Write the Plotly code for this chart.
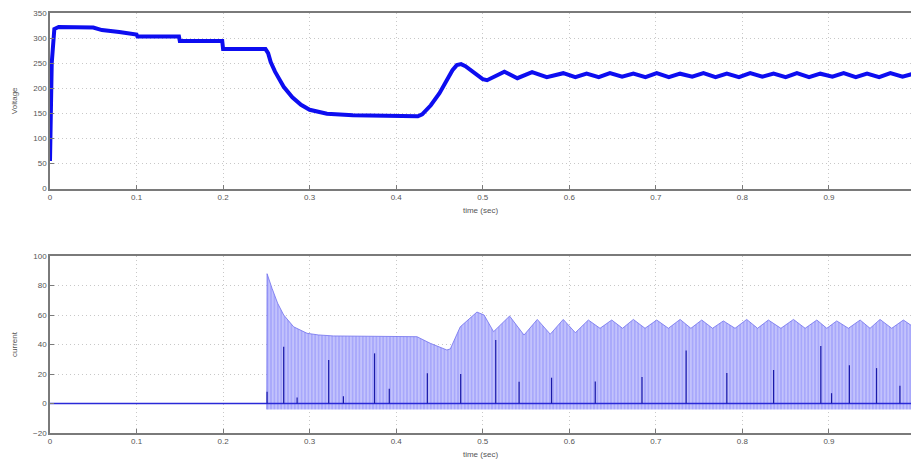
import plotly.graph_objects as go
from plotly.subplots import make_subplots

# ---------------- data ----------------
volt_t = [0.0, 0.002, 0.005, 0.01, 0.05, 0.06, 0.08, 0.1, 0.101, 0.149, 0.15, 0.199, 0.2,
          0.249, 0.252, 0.255, 0.26, 0.265, 0.27, 0.28, 0.29, 0.30, 0.31, 0.32, 0.35, 0.40,
          0.425, 0.43, 0.44, 0.45, 0.46, 0.465, 0.47, 0.475, 0.48, 0.49, 0.5, 0.505, 0.515,
          0.525, 0.54, 0.557, 0.574, 0.593, 0.607, 0.620, 0.634, 0.647, 0.661, 0.674, 0.688,
          0.701, 0.715, 0.728, 0.742, 0.755, 0.769, 0.782, 0.796, 0.809, 0.823, 0.836, 0.850,
          0.863, 0.877, 0.890, 0.904, 0.917, 0.931, 0.944, 0.958, 0.971, 0.985, 0.998]
volt_v = [55, 250, 318, 322, 321, 316, 312, 307, 303, 303, 294, 294, 278,
          278, 270, 252, 233, 218, 203, 182, 167, 157, 152, 149, 146, 144,
          144, 148, 166, 190, 220, 236, 246, 248, 244, 230, 218, 216, 224,
          233, 220, 232, 222, 230, 222, 229, 222, 230, 223, 229, 222, 230,
          222, 229, 223, 230, 222, 229, 222, 230, 223, 229, 222, 230,
          222, 229, 223, 230, 222, 229, 222, 230, 223, 229]

cur_t = [0.2505, 0.2508, 0.2566, 0.263, 0.270, 0.2815, 0.297, 0.31, 0.3277, 0.36, 0.397,
         0.424, 0.4394, 0.4585, 0.4625, 0.474, 0.4933, 0.5015, 0.5125, 0.531, 0.5477, 0.563,
         0.578, 0.593, 0.607, 0.622, 0.6355, 0.649, 0.6615, 0.674, 0.6875, 0.701, 0.7145,
         0.728, 0.7405, 0.753, 0.7655, 0.778, 0.7915, 0.805, 0.8175, 0.83, 0.8445, 0.859,
         0.8725, 0.886, 0.8975, 0.909, 0.9225, 0.936, 0.9475, 0.959, 0.9725, 0.986, 1.0]
cur_v = [-4, 88, 78, 68, 60, 52, 47.6, 46.5, 45.8, 45.5, 45.3,
         45.3, 40.8, 36.3, 37, 52, 62, 60, 48.7, 59.3, 46.4, 57,
         47, 57, 48, 56.6, 51, 56.6, 51, 57, 51, 56.6, 51,
         57, 51, 56.6, 51, 56, 51, 57, 51, 56.6, 51, 57,
         51, 56.6, 51, 56, 51, 56.6, 51, 57, 51, 56.6, 51]
cur_low_t = [0.2505, 1.0]
cur_low_v = [-4, -4]

spike_t = [0.2508, 0.270, 0.2855, 0.322, 0.339, 0.375, 0.392, 0.436, 0.4745, 0.515,
           0.542, 0.5795, 0.630, 0.684, 0.735, 0.782, 0.836, 0.8906, 0.903, 0.9236,
           0.955, 0.982]
spike_v = [8, 38.5, 4, 29.5, 5, 34, 10, 20.5, 20, 43,
           14.8, 17.5, 15, 18, 36, 20.7, 22.7, 39, 7, 26,
           24, 12]

zero_t = [0.0, 1.0]
zero_v = [0, 0]

x_ticks = [0, 0.1, 0.2, 0.3, 0.4, 0.5, 0.6, 0.7, 0.8, 0.9]
x_tick_text = ["0", "0.1", "0.2", "0.3", "0.4", "0.5", "0.6", "0.7", "0.8", "0.9"]
v_ticks = [0, 50, 100, 150, 200, 250, 300, 350]
c_ticks = [-20, 0, 20, 40, 60, 80, 100]

# ---------------- figure ----------------
fig = make_subplots(rows=2, cols=1, shared_xaxes=False, vertical_spacing=0.1)

fig.add_trace(go.Scatter(x=volt_t, y=volt_v, mode="lines",
                         line=dict(color="#0d0df0", width=4), showlegend=False),
              row=1, col=1)

fig.add_trace(go.Scatter(x=cur_low_t, y=cur_low_v, mode="lines",
                         line=dict(width=0, color="#8080f0"), showlegend=False),
              row=2, col=1)
fig.add_trace(go.Scatter(x=cur_t, y=cur_v, mode="lines", fill="tonexty",
                         line=dict(width=0.8, color="#7070ee"),
                         fillcolor="#a8a8fb",
                         fillpattern=dict(shape="|", fgcolor="#ffffff", bgcolor="#a8a8fb",
                                          size=3.4, solidity=0.3),
                         showlegend=False),
              row=2, col=1)
fig.add_trace(go.Scatter(x=zero_t, y=zero_v, mode="lines",
                         line=dict(color="#2a2ad8", width=1.3), showlegend=False),
              row=2, col=1)
sx, sy = [], []
for t, v in zip(spike_t, spike_v):
    sx += [t, t, None]
    sy += [0, v, None]
fig.add_trace(go.Scatter(x=sx, y=sy, mode="lines",
                         line=dict(color="#1a1aa8", width=1.2), showlegend=False),
              row=2, col=1)

axis_common = dict(showline=True, linecolor="#7a7a7a", linewidth=1.5, mirror=False,
                   ticks="inside", ticklen=4, tickcolor="#7a7a7a", automargin=False,
                   showgrid=True, gridcolor="#c8c8c8", griddash="1px,3px", gridwidth=1,
                   zeroline=False, tickfont=dict(size=8, color="#555555"))

for r in (1, 2):
    fig.update_xaxes(range=[0, 0.9948], tickvals=x_ticks, ticktext=x_tick_text,
                     title=dict(text="time (sec)", font=dict(size=8, color="#555555"),
                                standoff=6),
                     row=r, col=1, **axis_common)
    fig.update_xaxes(mirror=True, row=r, col=1)

fig.update_yaxes(range=[0, 350], tickvals=v_ticks,
                 title=dict(text="Voltage", font=dict(size=8, color="#555555"), standoff=14),
                 row=1, col=1, **axis_common)
fig.update_yaxes(range=[-20, 100], tickvals=c_ticks,
                 title=dict(text="current", font=dict(size=8, color="#555555"), standoff=14),
                 row=2, col=1, **axis_common)

fig.update_layout(
    width=911, height=463,
    margin=dict(l=49.5, r=0, t=13, b=30),
    plot_bgcolor="white", paper_bgcolor="white",
    font=dict(family="Liberation Sans, Arial, sans-serif"),
    xaxis=dict(domain=[0, 1]), xaxis2=dict(domain=[0, 1]),
    yaxis=dict(domain=[0.582, 1.0]), yaxis2=dict(domain=[0.0, 0.4214]),
)

fig.write_html("out.html", config={"displayModeBar": False},
               post_script="document.body.style.margin='0';document.body.style.overflow='hidden';")
